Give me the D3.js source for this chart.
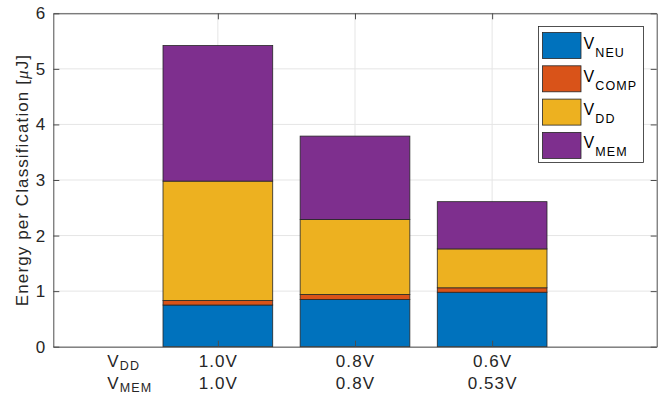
<!DOCTYPE html>
<html>
<head>
<meta charset="utf-8">
<script src="https://cdn.jsdelivr.net/npm/d3@7"></script>
<style>
  body { margin: 0; background: #fff; }
  svg { font-family: "Liberation Sans", Arial, sans-serif; }
  text { letter-spacing: 1.1px; }
</style>
</head>
<body>
<div class="chart"></div>
<script>
// chart data
var categories = [1, 2, 3];
var vddLabels = ["1.0V", "0.8V", "0.6V"];
var vmemLabels = ["1.0V", "0.8V", "0.53V"];
var seriesNames = ["NEU", "COMP", "DD", "MEM"];
var vNeu = [0.75, 0.85, 0.98];
var vComp = [0.08, 0.09, 0.08];
var vDd = [2.15, 1.35, 0.70];
var vMem = [2.44, 1.50, 0.85];
var yTicks = [0, 1, 2, 3, 4, 5, 6];

var colors = ["#0072BD", "#D95319", "#EDB120", "#7E2F8E"];

var svgWidth = 659;
var svgHeight = 394;
var margin = { top: 13.3, right: 2.3, bottom: 47.3, left: 53.3 };
var width = svgWidth - margin.left - margin.right;
var height = svgHeight - margin.top - margin.bottom;

var svg = d3.select(".chart")
  .append("svg")
  .attr("width", svgWidth)
  .attr("height", svgHeight);

var chartGroup = svg.append("g").attr("transform", `translate(${margin.left}, ${margin.top})`);

var xScale = d3.scaleLinear().domain([-0.2, 4.2]).range([0, width]);
var yScale = d3.scaleLinear().domain([0, 6]).range([height, 0]);

// stack the series
var table = categories.map(function(c, i) {
  return { cat: c, NEU: vNeu[i], COMP: vComp[i], DD: vDd[i], MEM: vMem[i] };
});
var stacked = d3.stack().keys(seriesNames)(table);

// grid lines (under the bars)
var grid = chartGroup.append("g");
grid.selectAll(".gy").data(yTicks).enter().append("line")
  .attr("x1", 0).attr("x2", width)
  .attr("y1", d => yScale(d)).attr("y2", d => yScale(d))
  .attr("stroke", "#e5e5e5").attr("stroke-width", 1);
grid.selectAll(".gx").data(categories).enter().append("line")
  .attr("x1", d => xScale(d)).attr("x2", d => xScale(d))
  .attr("y1", 0).attr("y2", height)
  .attr("stroke", "#e5e5e5").attr("stroke-width", 1);

// bars
var barW = xScale(0.8) - xScale(0);
chartGroup.selectAll(".layer")
  .data(stacked)
  .enter()
  .append("g")
  .attr("fill", (d, i) => colors[i])
  .selectAll("rect")
  .data(d => d)
  .enter()
  .append("rect")
  .attr("x", d => xScale(d.data.cat) - barW / 2)
  .attr("width", barW)
  .attr("y", d => yScale(d[1]))
  .attr("height", d => yScale(d[0]) - yScale(d[1]))
  .attr("stroke", "#262626")
  .attr("stroke-width", 0.8);

// axes, ticks inward, box on
var axisColor = "#4d4d4d";
var yLeft = d3.axisLeft(yScale).tickValues(yTicks).tickSizeInner(-6).tickSizeOuter(0).tickPadding(7).tickFormat(d3.format("d"));
var yRight = d3.axisRight(yScale).tickValues(yTicks).tickSizeInner(-6).tickSizeOuter(0).tickFormat("");
var xBottom = d3.axisBottom(xScale).tickValues(categories).tickSizeInner(-6).tickSizeOuter(0).tickFormat("");
var xTop = d3.axisTop(xScale).tickValues(categories).tickSizeInner(-6).tickSizeOuter(0).tickFormat("");

var gl = chartGroup.append("g").call(yLeft);
chartGroup.append("g").attr("transform", `translate(${width}, 0)`).call(yRight);
chartGroup.append("g").attr("transform", `translate(0, ${height})`).call(xBottom);
chartGroup.append("g").call(xTop);

chartGroup.selectAll(".domain").attr("stroke", axisColor);
chartGroup.selectAll(".tick line").attr("stroke", axisColor);
gl.selectAll(".tick text").attr("font-size", 17).attr("fill", "#262626").attr("letter-spacing", 0);

// x labels, two rows
var xl = chartGroup.append("g").attr("font-size", 17).attr("fill", "#262626").attr("text-anchor", "middle");
xl.selectAll(".vdd").data(vddLabels).enter().append("text")
  .attr("x", (d, i) => xScale(categories[i]) + 0.5)
  .attr("y", height + 20.5)
  .text(d => d);
xl.selectAll(".vmem").data(vmemLabels).enter().append("text")
  .attr("x", (d, i) => xScale(categories[i]) + 0.5)
  .attr("y", height + 42.5)
  .text(d => d);

var rowName = chartGroup.append("g").attr("font-size", 17).attr("fill", "#262626");
var t1 = rowName.append("text").attr("x", 54).attr("y", height + 20.5);
t1.append("tspan").text("V");
t1.append("tspan").attr("font-size", 12.5).attr("dy", 3).text("DD");
var t2 = rowName.append("text").attr("x", 54).attr("y", height + 42.5);
t2.append("tspan").text("V");
t2.append("tspan").attr("font-size", 12.5).attr("dy", 3).text("MEM");

// y label
var yl = chartGroup.append("text")
  .attr("transform", "rotate(-90)")
  .attr("x", -height / 2)
  .attr("y", -margin.left + 27.5)
  .attr("text-anchor", "middle")
  .attr("font-size", 17)
  .attr("fill", "#262626");
yl.append("tspan").text("Energy per Classification [");
yl.append("tspan").attr("font-style", "italic").attr("font-family", "'Liberation Serif', serif").text("\u03bc");
yl.append("tspan").text("J]");

// legend
var legend = svg.append("g").attr("transform", "translate(538.5, 26.5)");
legend.append("rect")
  .attr("width", 105).attr("height", 136)
  .attr("fill", "#fff").attr("stroke", "#262626").attr("stroke-width", 0.8);
var items = legend.selectAll(".item").data(seriesNames).enter().append("g")
  .attr("transform", (d, i) => `translate(4, ${6 + i * 33.3})`);
items.append("rect")
  .attr("width", 38.5).attr("height", 26)
  .attr("fill", (d, i) => colors[i])
  .attr("stroke", "#262626").attr("stroke-width", 0.8);
var lt = items.append("text").attr("x", 41).attr("y", 16).attr("font-size", 16).attr("fill", "#000").attr("letter-spacing", 0.6);
lt.append("tspan").text("V");
lt.append("tspan").attr("font-size", 12.5).attr("dy", 8).text(d => d);
</script>
</body>
</html>
